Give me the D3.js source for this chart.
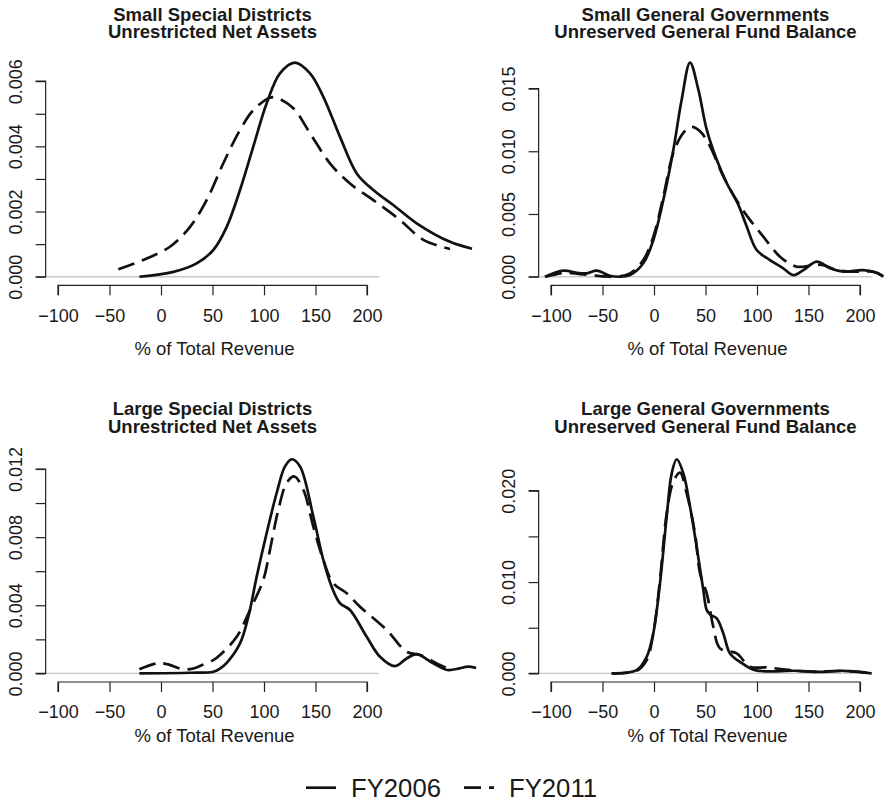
<!DOCTYPE html>
<html>
<head>
<meta charset="utf-8">
<script src="https://cdn.jsdelivr.net/npm/d3@7"></script>
<style>
  body { margin: 0; background: #fff; }
  svg text { font-family: "Liberation Sans", Arial, Helvetica, sans-serif; fill: #1a1a1a; }
</style>
</head>
<body>
<svg id="chart" width="885" height="803"></svg>
<script>
// ---- data (x = % of total revenue, y = density) ----
const xTicks = [-100, -50, 0, 50, 100, 150, 200];
const xLabel = "% of Total Revenue";
const seriesNames = ["FY2006", "FY2011"];

const panelTitles = [
  ["Small Special Districts", "Unrestricted Net Assets"],
  ["Small General Governments", "Unreserved General Fund Balance"],
  ["Large Special Districts", "Unrestricted Net Assets"],
  ["Large General Governments", "Unreserved General Fund Balance"]
];

// y ticks per panel: all tick marks, and the ones that carry a label
const yTickMarks = [
  [0, 0.001, 0.002, 0.003, 0.004, 0.005, 0.006],
  [0, 0.005, 0.010, 0.015],
  [0, 0.002, 0.004, 0.006, 0.008, 0.010, 0.012],
  [0, 0.005, 0.010, 0.015, 0.020]
];
const yTickLabels = [
  [0, 0.002, 0.004, 0.006],
  [0, 0.005, 0.010, 0.015],
  [0, 0.004, 0.008, 0.012],
  [0, 0.010, 0.020]
];

const smallSpecial2006 = [[-21,0],[12,0.00015],[34.6,0.00041],[50.8,0.00082],[63.8,0.00153],[76.7,0.00266],[89.6,0.00399],[102.6,0.00532],[115.5,0.00624],[130,0.00657],[144.7,0.00624],[157.6,0.00552],[173.8,0.00429],[190,0.00317],[206.1,0.00266],[225.5,0.0022],[248.2,0.00164],[280.6,0.00107],[302,0.00086]];
const smallSpecial2011 = [[-41.4,0.00023],[-13.9,0.00056],[8.7,0.00092],[28.2,0.00153],[44.3,0.00235],[60.5,0.00348],[76.7,0.0045],[89.6,0.00511],[105.8,0.00549],[112.3,0.00549],[128.5,0.00517],[144.7,0.0044],[164,0.00348],[183.5,0.00286],[206.1,0.00235],[232,0.00174],[254.7,0.00113],[280.6,0.00085]];

const smallGeneral2006 = [[-105.8,0],[-88,0.00048],[-75,0.00032],[-65.3,0.00027],[-55.6,0.00048],[-42.7,0.00008],[-34,0],[-23.3,0.00013],[-10.4,0.00107],[-0.6,0.00293],[9.1,0.00613],[18.8,0.01013],[26.9,0.01413],[35,0.01707],[43,0.01493],[51.2,0.01173],[60.9,0.00933],[70.6,0.00747],[81.9,0.00573],[90,0.004],[99.7,0.00213],[112.6,0.00133],[125.5,0.00067],[135.2,0.00013],[145,0.00053],[158,0.0012],[170.9,0.00067],[183.8,0.0004],[203.2,0.00053],[216.2,0.00032],[222.6,0]];
const smallGeneral2011 = [[-105.8,0],[-94.5,0.00021],[-84.8,0.00032],[-71.8,0.00021],[-52.4,0.00005],[-36.9,0],[-23.3,0.00027],[-10.4,0.00133],[-0.6,0.0032],[9.1,0.0064],[18.8,0.00987],[28.5,0.01147],[36.6,0.01195],[44.7,0.0116],[54.4,0.0104],[67.3,0.008],[81.9,0.00587],[93.2,0.00453],[106.1,0.0032],[122.3,0.0016],[138.5,0.0008],[154.7,0.00093],[164.4,0.00093],[177.3,0.00053],[196.8,0.0004],[212.9,0.0004],[222.6,0.00005]];

const largeSpecial2006 = [[-21,0],[28.2,0.00004],[50.8,0.0001],[57.3,0.00029],[63.8,0.00062],[76.7,0.00176],[84.8,0.00333],[92.9,0.00568],[102.6,0.00824],[112.3,0.01059],[120.4,0.01215],[127,0.01257],[135,0.01215],[147.9,0.00921],[157.6,0.00666],[165.7,0.00509],[173.8,0.00412],[183.5,0.00372],[199.7,0.00215],[212.6,0.00098],[227.2,0.00043],[238.5,0.00088],[248.2,0.00113],[264.4,0.00059],[278,0.0002],[290,0.0003],[298,0.0004],[306,0.00032]];
const largeSpecial2011 = [[-21,0.00024],[-4.2,0.00059],[5.5,0.00055],[21.7,0.00024],[31.4,0.00029],[40,0.0005],[50.8,0.00078],[57.3,0.00108],[73.5,0.00215],[86.4,0.00372],[99.3,0.00549],[105.8,0.00725],[113.9,0.0096],[122,0.01118],[129.4,0.01156],[138.2,0.01078],[147.9,0.00862],[157.6,0.00666],[167.3,0.00529],[180.3,0.00471],[193.2,0.00392],[219.1,0.00255],[238.5,0.00127],[251.5,0.00108],[270.9,0.00049],[282,0.0002]];

const largeGeneral2006 = [[-41.1,0],[-16.8,0.00036],[-7.1,0.00182],[-0.7,0.00438],[5.8,0.00986],[12.3,0.01715],[17.2,0.0219],[22,0.02344],[28.5,0.0219],[35,0.01825],[41.4,0.01387],[47.9,0.00912],[51.2,0.00693],[55,0.0064],[60.9,0.00602],[67.3,0.00438],[73.8,0.00219],[83.5,0.00127],[98.1,0.00036],[138.5,0.00029],[164.4,0.00018],[183.8,0.00029],[211.3,0]];
const largeGeneral2011 = [[-41.1,0],[-16.8,0.00029],[-7.1,0.00146],[-0.7,0.00438],[5.8,0.01022],[12.3,0.01752],[18.8,0.02099],[25.2,0.02197],[31.7,0.01972],[39.8,0.01533],[44.7,0.01095],[51.2,0.00876],[57.6,0.0051],[64.1,0.00274],[80.3,0.00219],[93.2,0.00073],[109.4,0.00066],[132,0.00036],[154.7,0.00018],[180.6,0.00029],[209.7,0.00007]];

const panelSeries = [
  [smallSpecial2006, smallSpecial2011],
  [smallGeneral2006, smallGeneral2011],
  [largeSpecial2006, largeSpecial2011],
  [largeGeneral2006, largeGeneral2011]
];

// ---- layout ----
const svg = d3.select("#chart");
const cols = [{x0: 58, x1: 367}, {x0: 551, x1: 860}];   // pixel spots of -100 and 200
const rows = [
  {top: 54, bottom: 285.3, t1: 20.5, t2: 38.3, tickDy: 37, labY: 355},
  {top: 450.7, bottom: 682, t1: 415, t2: 432.7, tickDy: 36, labY: 742}
];
const dashStyle = "17 8";
const lineW = 2.7;

panelSeries.forEach((series, i) => {
  const col = cols[i % 2], row = rows[Math.floor(i / 2)];

  const x = d3.scaleLinear().domain([-100, 200]).range([col.x0, col.x1]);
  const ymax = d3.max(series, s => d3.max(s, d => d[1]));
  const y = d3.scaleLinear().domain([-0.04 * ymax, 1.04 * ymax]).range([row.bottom, row.top]);

  const left = x(-112), right = x(212);
  const g = svg.append("g");

  // title (two bold lines)
  const cx = (left + right) / 2;
  panelTitles[i].forEach((t, k) => {
    g.append("text")
      .attr("x", cx)
      .attr("y", k === 0 ? row.t1 : row.t2)
      .attr("text-anchor", "middle")
      .style("font-size", "18.5px")
      .style("font-weight", "bold")
      .text(t);
  });

  // grey zero line across the plot region
  g.append("line")
    .attr("x1", left).attr("x2", right)
    .attr("y1", y(0)).attr("y2", y(0))
    .attr("stroke", "#c8c8c8").attr("stroke-width", 1.3);

  // x axis
  const xAxis = d3.axisBottom(x).tickValues(xTicks).tickSize(10).tickSizeOuter(0)
    .tickFormat(d => d < 0 ? "\u2212" + Math.abs(d) : d);
  const gx = g.append("g").attr("transform", `translate(0,${row.bottom})`).call(xAxis);
  gx.select(".domain").attr("stroke", "#222").attr("stroke-width", 1.2)
    .attr("d", `M${x(-100)},10V0H${x(200)}V10`);
  gx.selectAll(".tick line").attr("stroke", "#222").attr("stroke-width", 1.2);
  gx.selectAll(".tick text").attr("y", row.tickDy).attr("dy", null)
    .style("font-size", "18px").style("font-family", "Liberation Sans, Arial, sans-serif")
    .attr("fill", "#1a1a1a");

  g.append("text")
    .attr("x", (x(-100) + x(200)) / 2 + 2)
    .attr("y", row.labY)
    .attr("text-anchor", "middle")
    .style("font-size", "18.5px")
    .text(xLabel);

  // y axis: line spans first to last tick, labels rotated
  const yAxis = d3.axisLeft(y).tickValues(yTickMarks[i]).tickSize(10).tickSizeOuter(0)
    .tickFormat(d => yTickLabels[i].some(v => Math.abs(v - d) < 1e-9) ? d3.format(".3f")(d) : "");
  const yTicksArr = yTickMarks[i];
  const gy = g.append("g").attr("transform", `translate(${left},0)`).call(yAxis);
  gy.select(".domain").attr("stroke", "#222").attr("stroke-width", 1.2)
    .attr("d", `M-10,${y(yTicksArr[yTicksArr.length - 1])}H0V${y(0)}H-10`);
  gy.selectAll(".tick line").attr("stroke", "#222").attr("stroke-width", 1.2);
  gy.selectAll(".tick text")
    .attr("x", null).attr("dy", null)
    .attr("transform", "translate(-23.5,0) rotate(-90)")
    .attr("text-anchor", "middle")
    .style("font-size", "18px").style("font-family", "Liberation Sans, Arial, sans-serif")
    .attr("fill", "#1a1a1a");

  // density curves
  const line = d3.line()
    .x(d => x(d[0]))
    .y(d => y(d[1]))
    .curve(d3.curveCatmullRom.alpha(0.5));

  series.forEach((s, k) => {
    g.append("path")
      .datum(s)
      .attr("d", line)
      .attr("fill", "none")
      .attr("stroke", "#111")
      .attr("stroke-width", lineW)
      .attr("stroke-linejoin", "round")
      .attr("stroke-dasharray", k === 1 ? dashStyle : null);
  });
});

// ---- legend ----
const legend = svg.append("g");
const legendItems = [
  {x: 306, dash: null},
  {x: 464, dash: dashStyle}
];
legendItems.forEach((it, k) => {
  legend.append("line")
    .attr("x1", it.x).attr("x2", it.x + 30)
    .attr("y1", 787.7).attr("y2", 787.7)
    .attr("stroke", "#111").attr("stroke-width", lineW)
    .attr("stroke-dasharray", it.dash);
  legend.append("text")
    .attr("x", it.x + 45)
    .attr("y", 796.7)
    .style("font-size", "25.7px")
    .text(seriesNames[k]);
});
</script>
</body>
</html>
